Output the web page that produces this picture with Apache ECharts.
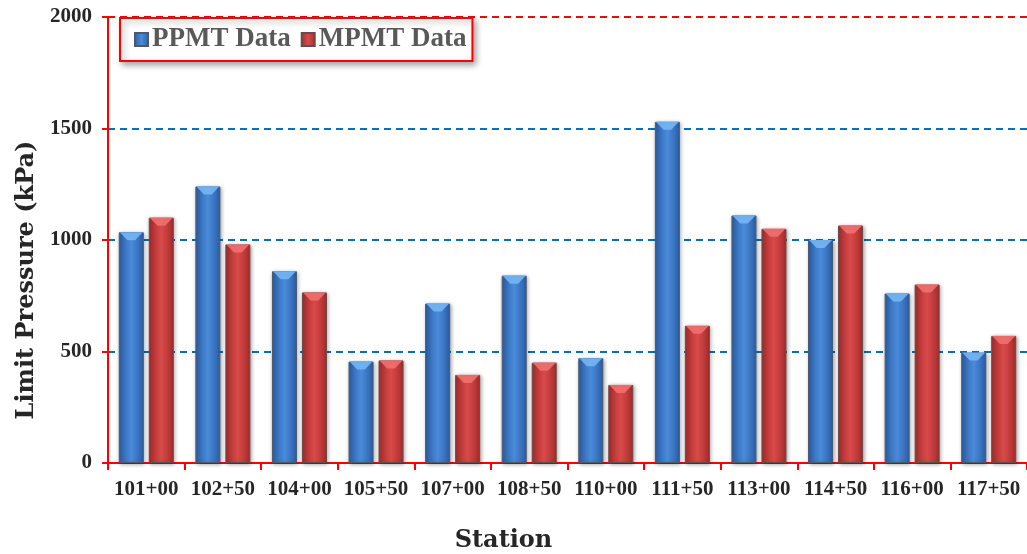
<!DOCTYPE html>
<html><head><meta charset="utf-8">
<script src="https://cdn.jsdelivr.net/npm/echarts@6/dist/echarts.min.js"></script>
<style>html,body{margin:0;padding:0;background:#fff}#c{width:1027px;height:554px}</style>
</head><body><div id="c"></div>
<script>
const stations = ['101+00','102+50','104+00','105+50','107+00','108+50','110+00','111+50','113+00','114+50','116+00','117+50'];
const ppmt = [1035,1240,860,455,715,840,470,1530,1110,1000,760,495];
const mpmt = [1100,980,765,460,395,450,350,615,1050,1065,800,570];
const yTicks = [0,500,1000,1500,2000];

function grad(edge, mid){
  return new echarts.graphic.LinearGradient(0,0,1,0,[
    {offset:0,color:edge},{offset:0.5,color:mid},{offset:1,color:edge}]);
}
const bevel = 'path://M0,0 L24,0 L16,7 L8,7 Z';
const chart = echarts.init(document.getElementById('c'));
chart.setOption({
  animation:false,
  grid:{left:108,right:0,top:17,bottom:91, outerBoundsMode:'none', containLabel:false},
  legend:{
    left:120, top:18, orient:'horizontal',
    padding:[8,6,8,14], itemGap:10,
    borderColor:'#F00', borderWidth:2, backgroundColor:'#fff',
    shadowColor:'rgba(0,0,0,0.35)', shadowBlur:6, shadowOffsetX:3, shadowOffsetY:3,
    itemWidth:13, itemHeight:13, icon:'rect',
    textStyle:{fontFamily:'Liberation Serif', fontWeight:'bold', fontSize:27, color:'#595959', padding:[0,0,0,-1]},
    data:['PPMT Data','MPMT Data']
  },
  xAxis:{
    type:'category', data:stations,
    axisLine:{lineStyle:{color:'#F00', width:2}},
    axisTick:{show:true, length:7, lineStyle:{color:'#F00', width:2}},
    axisLabel:{interval:0, fontFamily:'Liberation Serif', fontWeight:'bold', fontSize:21, color:'#262626', margin:16},
    name:'Station', nameLocation:'middle', nameGap:66,
    nameTextStyle:{fontFamily:'DejaVu Serif', fontWeight:'bold', fontSize:24, color:'#262626', padding:[0,128,0,0]}
  },
  yAxis:{
    type:'value', min:0, max:2000, interval:500,
    axisLine:{show:true, lineStyle:{color:'#F00', width:2}},
    axisTick:{show:true, length:6, lineStyle:{color:'#F00', width:2}},
    axisLabel:{fontFamily:'Liberation Serif', fontWeight:'bold', fontSize:21, color:'#262626', margin:16,
      formatter:function(v){return String(v);}},
    splitLine:{show:true, lineStyle:{type:[7,5], width:2,
      color:['rgba(0,0,0,0)','#0070C0','#0070C0','#0070C0','#E01010']}},
    name:'Limit Pressure (kPa)', nameLocation:'middle', nameGap:62, nameRotate:90,
    nameTextStyle:{fontFamily:'DejaVu Serif', fontWeight:'bold', fontSize:24, color:'#262626', padding:[0,80,0,0]}
  },
  series:[
    {name:'PPMT Data', type:'bar', data:ppmt, barWidth:25, barGap:'20%',
     itemStyle:{color:grad('#2C5FA8','#4A8BDA'), borderColor:'#4a5a70', borderWidth:1,
       shadowColor:'rgba(0,0,0,0.35)', shadowBlur:4, shadowOffsetX:1, shadowOffsetY:1}},
    {name:'MPMT Data', type:'bar', data:mpmt, barWidth:25,
     itemStyle:{color:grad('#A82C2C','#D94A4A'), borderColor:'#6a4a4a', borderWidth:1,
       shadowColor:'rgba(0,0,0,0.35)', shadowBlur:4, shadowOffsetX:1, shadowOffsetY:1}},
    {type:'pictorialBar', data:ppmt, symbol:bevel, symbolSize:[23,8], symbolPosition:'end',
     symbolOffset:[-15,0], z:5, silent:true, itemStyle:{color:'#74B6F4', opacity:0.9}},
    {type:'pictorialBar', data:mpmt, symbol:bevel, symbolSize:[23,8], symbolPosition:'end',
     symbolOffset:[15,0], z:5, silent:true, itemStyle:{color:'#F07070', opacity:0.9}}
  ]
});
</script></body></html>
